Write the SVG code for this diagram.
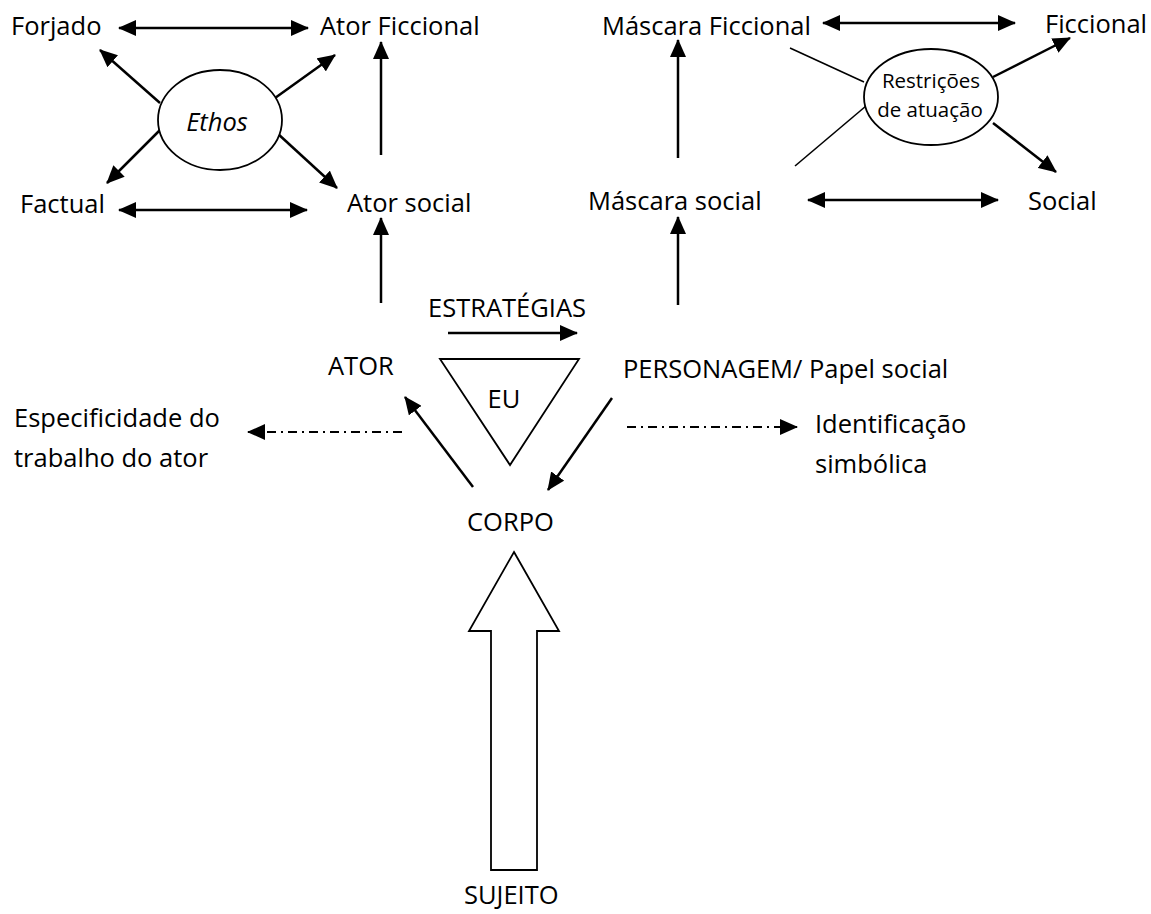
<svg xmlns="http://www.w3.org/2000/svg" width="1151" height="914" viewBox="0 0 1151 914">
<style>
text{font-family:"Open Sans","Liberation Sans",sans-serif;font-size:25.5px;fill:#000}
.sm{font-size:20.5px}
.it{font-style:italic}
.ar{fill:none;stroke:#000;stroke-width:2.5}
.thin{fill:none;stroke:#000;stroke-width:1.6}
.dd{fill:none;stroke:#000;stroke-width:2;stroke-dasharray:9 5 2 5}
.shape{fill:#fff;stroke:#000;stroke-width:1.8}
</style>
<defs>
<marker id="ah" markerUnits="userSpaceOnUse" markerWidth="18" markerHeight="16" refX="17" refY="8" orient="auto-start-reverse" viewBox="0 0 18 16">
<path d="M0,0 L18,8 L0,16 z" fill="#000"/>
</marker>
</defs>
<g id="connectors">
<line class="ar" x1="119" y1="28" x2="308" y2="28" marker-start="url(#ah)" marker-end="url(#ah)"/>
<line class="ar" x1="119" y1="210" x2="307" y2="210" marker-start="url(#ah)" marker-end="url(#ah)"/>
<line class="ar" x1="160" y1="103" x2="100" y2="50" marker-end="url(#ah)"/>
<line class="ar" x1="275" y1="98" x2="335" y2="55" marker-end="url(#ah)"/>
<line class="ar" x1="162" y1="128" x2="107" y2="183" marker-end="url(#ah)"/>
<line class="ar" x1="277" y1="133" x2="337" y2="188" marker-end="url(#ah)"/>
<line class="ar" x1="381" y1="155" x2="381" y2="42" marker-end="url(#ah)"/>
<line class="ar" x1="381" y1="303" x2="381" y2="218" marker-end="url(#ah)"/>
<line class="ar" x1="823" y1="23" x2="1015" y2="23" marker-start="url(#ah)" marker-end="url(#ah)"/>
<line class="ar" x1="808" y1="200" x2="998" y2="200" marker-start="url(#ah)" marker-end="url(#ah)"/>
<line class="ar" x1="678" y1="158" x2="678" y2="40" marker-end="url(#ah)"/>
<line class="ar" x1="678" y1="305" x2="678" y2="217" marker-end="url(#ah)"/>
<line class="thin" x1="790" y1="48" x2="864" y2="82"/>
<line class="thin" x1="795" y1="166" x2="866" y2="106"/>
<line class="ar" x1="993" y1="77" x2="1070" y2="38" marker-end="url(#ah)"/>
<line class="ar" x1="993" y1="123" x2="1056" y2="172" marker-end="url(#ah)"/>
<line class="ar" x1="448" y1="333" x2="577" y2="333" marker-end="url(#ah)"/>
<line class="ar" x1="473" y1="487" x2="405" y2="397" marker-end="url(#ah)"/>
<line class="ar" x1="612" y1="398" x2="548" y2="490" marker-end="url(#ah)"/>
<line class="dd" x1="402" y1="432" x2="248" y2="432" marker-end="url(#ah)"/>
<line class="dd" x1="627" y1="427" x2="797" y2="427" marker-end="url(#ah)"/>
</g>
<g id="forjado"><text x="11" y="35">Forjado</text></g>
<g id="ator-ficcional"><text x="320" y="35">Ator Ficcional</text></g>
<g id="factual"><text x="20" y="213">Factual</text></g>
<g id="ator-social"><text x="347" y="212">Ator social</text></g>
<g id="ethos"><ellipse class="shape" cx="220" cy="120" rx="62" ry="50"/><text class="it" x="217" y="131" text-anchor="middle" font-size="27">Ethos</text></g>
<g id="mascara-ficcional"><text x="602" y="35">Máscara Ficcional</text></g>
<g id="ficcional"><text x="1045" y="33">Ficcional</text></g>
<g id="mascara-social"><text x="588" y="210">Máscara social</text></g>
<g id="social"><text x="1028" y="210">Social</text></g>
<g id="restricoes"><ellipse class="shape" cx="931" cy="97" rx="67" ry="48"/><text class="sm" x="931" y="88" text-anchor="middle">Restrições</text><text class="sm" x="930" y="117" text-anchor="middle">de atuação</text></g>
<g id="estrategias"><text x="428" y="317">ESTRATÉGIAS</text></g>
<g id="ator"><text x="328" y="375">ATOR</text></g>
<g id="eu"><polygon class="shape" points="440,359 579,359 510,465"/><text x="504" y="408" text-anchor="middle">EU</text></g>
<g id="personagem"><text x="623" y="378">PERSONAGEM/ Papel social</text></g>
<g id="especificidade"><text x="14" y="427">Especificidade do</text><text x="14" y="467">trabalho do ator</text></g>
<g id="identificacao"><text x="815" y="433">Identificação</text><text x="815" y="473">simbólica</text></g>
<g id="corpo"><text x="467" y="531">CORPO</text></g>
<g id="sujeito-arrow"><polygon class="shape" points="514,552 559,631 537,631 537,870 491,870 491,631 469,631"/></g>
<g id="sujeito"><text x="464" y="904">SUJEITO</text></g>
</svg>
